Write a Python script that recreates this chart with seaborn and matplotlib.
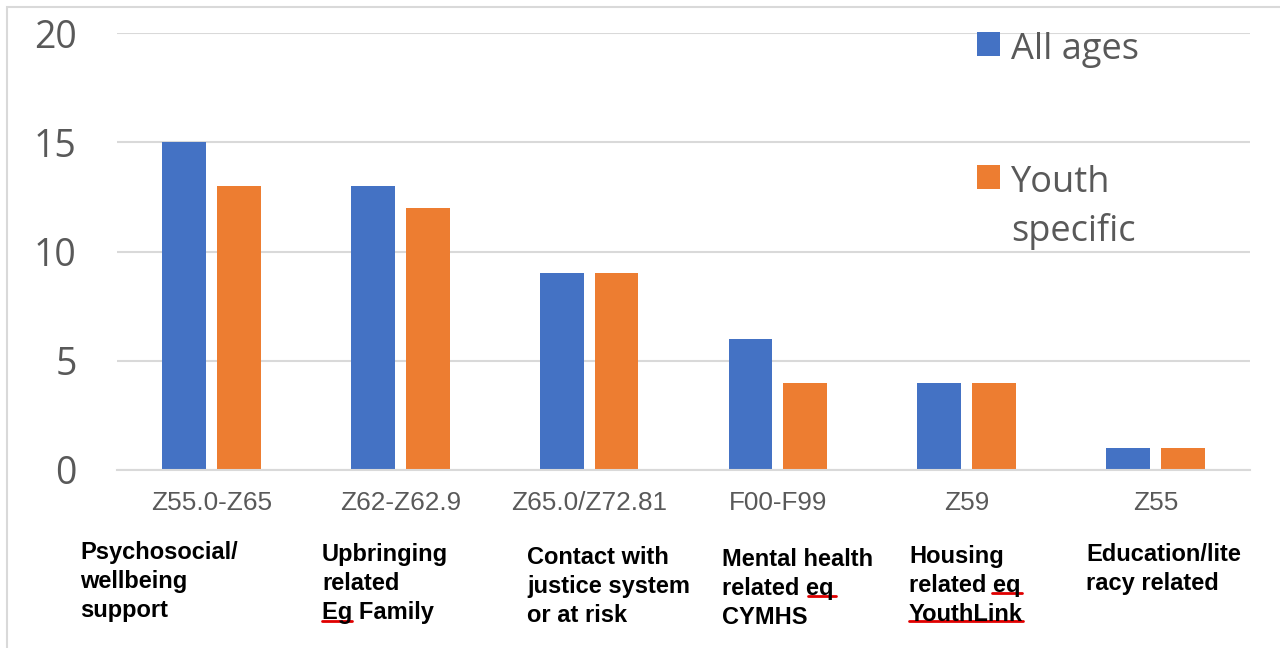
import matplotlib
matplotlib.use("Agg")
import matplotlib.pyplot as plt
import seaborn as sns
import pandas as pd
from matplotlib.patches import Rectangle
from matplotlib.lines import Line2D

# ---- data ----
codes = ["Z55.0-Z65", "Z62-Z62.9", "Z65.0/Z72.81", "F00-F99", "Z59", "Z55"]
all_ages = [15, 13, 9, 6, 4, 1]
youth_specific = [13, 12, 9, 4, 4, 1]
series_names = ["All ages", "Youth\nspecific"]
descriptions = [
    "Psychosocial/\nwellbeing\nsupport",
    "Upbringing\nrelated\nEg Family",
    "Contact with\njustice system\nor at risk",
    "Mental health\nrelated eq\nCYMHS",
    "Housing\nrelated eq\nYouthLink",
    "Education/lite\nracy related",
]
y_ticks = [0, 5, 10, 15, 20]

df = pd.DataFrame({
    "code": codes * 2,
    "value": all_ages + youth_specific,
    "series": [series_names[0]] * len(codes) + [series_names[1]] * len(codes),
})

BLUE = "#4472C4"
ORANGE = "#ED7D31"
GRID = "#D9D9D9"
TXT = "#595959"

sns.set_theme(style="white")
plt.rcParams["font.family"] = ["Open Sans", "DejaVu Sans"]

W, H = 1280, 648
fig = plt.figure(figsize=(W / 100, H / 100), dpi=100)
ax = fig.add_axes([117 / W, 1 - 470 / H, (1250 - 117) / W, (470 - 33) / H])

sns.barplot(data=df, x="code", y="value", hue="series", order=codes,
            hue_order=series_names, palette=[BLUE, ORANGE],
            width=0.58, gap=0.2, saturation=1, linewidth=0, ax=ax)

ax.set_ylim(0, 20)
ax.set_xlim(-0.5, len(codes) - 0.5)
ax.set_yticks(y_ticks)
ax.set_yticklabels([str(t) for t in y_ticks], fontsize=27, color=TXT)
ax.tick_params(axis="y", length=0, pad=29)
ax.tick_params(axis="x", length=0, pad=15)
for lab in ax.get_xticklabels():
    lab.set_fontfamily(["Liberation Sans", "DejaVu Sans"])
    lab.set_fontsize(18.8)
    lab.set_color(TXT)
ax.set_xlabel("")
ax.set_ylabel("")
ax.yaxis.grid(True, color=GRID, linewidth=1.5)
ax.set_axisbelow(True)
for s in ["left", "right", "top"]:
    ax.spines[s].set_visible(False)
ax.spines["bottom"].set_color(GRID)
ax.spines["bottom"].set_linewidth(1.5)

leg = ax.legend(loc="upper left", bbox_to_anchor=(977 / W, 1 - 32 / H),
                bbox_transform=fig.transFigure, frameon=False, fontsize=26,
                handlelength=0.64, handleheight=0.64, handletextpad=0.3,
                labelspacing=2.69, labelcolor=TXT, borderpad=0,
                borderaxespad=0)
for t in leg.get_texts():
    t.set_linespacing(1.42)
try:
    for col in leg._legend_handle_box.get_children():
        for row in col.get_children():
            row.align = "top"
except Exception:
    pass

# descriptive labels under the category codes
desc_left_px = [80, 322, 527, 722, 909, 1086]
desc_top_px = [541, 543, 546, 548, 545, 543]
for txt, xp, yp in zip(descriptions, desc_left_px, desc_top_px):
    fig.text(xp / W, 1 - yp / H, txt, ha="left", va="top", fontsize=17,
             fontweight="bold", color="black", linespacing=1.33,
             family=["Liberation Sans", "DejaVu Sans"])

# spell-check style underlines
for (x0, x1, yp) in [(322, 352, 621), (808, 836, 596), (992, 1022, 593), (909, 1023, 621)]:
    fig.add_artist(Line2D([x0 / W, x1 / W], [1 - yp / H, 1 - yp / H],
                          transform=fig.transFigure, color="#E00000", linewidth=2))

# figure border
fig.add_artist(Rectangle((7 / W, -0.05), 1.1, 1 - 7 / H + 0.05,
                         transform=fig.transFigure, fill=False,
                         edgecolor=GRID, linewidth=1.5, clip_on=False))

fig.savefig("out.png", dpi=100)
